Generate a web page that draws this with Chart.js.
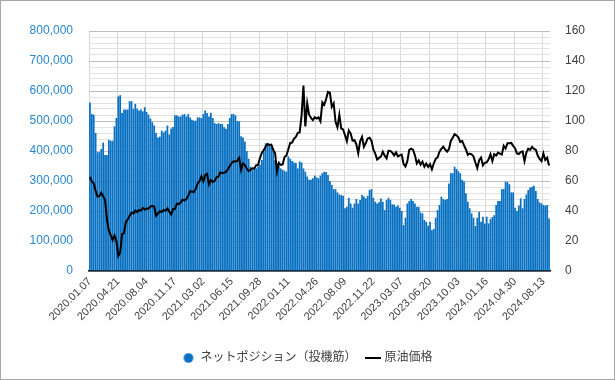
<!DOCTYPE html>
<html>
<head>
<meta charset="utf-8">
<script src="https://cdn.jsdelivr.net/npm/chart.js@4/dist/chart.umd.min.js"></script>
<style>
html,body{margin:0;padding:0;background:#fff;}
#wrap{width:615px;height:380px;box-sizing:border-box;border:1px solid #a6a6a6;position:relative;background:#fff;}
canvas{display:block;}
</style>
</head>
<body>
<div id="wrap"><canvas id="c"></canvas></div>
<script>
// Weekly series starting 2020.01.07
const startYear = 2020, startMonth = 1, startDay = 7;

// ネットポジション（投機筋） – contracts
const netPosition = [
562000,523000,521000,460000,396000,396000,407000,428000,387000,387000,
437000,434000,434000,482000,510000,582000,586000,527000,538000,538000,
538000,566000,566000,541000,557000,541000,535000,538000,532000,546000,
530000,521000,508000,496000,485000,460000,445000,448000,468000,462000,
468000,485000,455000,475000,480000,519000,519000,515000,515000,521000,
523000,515000,523000,512000,504000,501000,501000,512000,512000,510000,
523000,535000,527000,515000,527000,510000,493000,490000,493000,490000,
490000,479000,474000,490000,510000,523000,523000,519000,499000,499000,
449000,445000,432000,400000,374000,348000,337000,342000,342000,348000,
354000,370000,398000,426000,426000,420000,415000,409000,370000,359000,
351000,342000,337000,334000,331000,382000,374000,367000,362000,360000,
342000,365000,362000,342000,331000,315000,304000,304000,309000,318000,
312000,309000,318000,326000,331000,330000,320000,300000,287000,273000,
273000,262000,255000,253000,251000,209000,214000,244000,225000,211000,
225000,240000,225000,237000,253000,248000,242000,251000,270000,273000,
244000,231000,225000,229000,242000,231000,203000,237000,244000,237000,
222000,222000,214000,218000,211000,200000,153000,177000,225000,233000,
240000,233000,225000,214000,214000,195000,192000,170000,164000,151000,
164000,136000,140000,177000,203000,220000,248000,240000,237000,240000,
292000,326000,326000,348000,340000,333000,326000,304000,298000,259000,
231000,209000,192000,177000,150000,177000,197000,164000,181000,158000,
181000,158000,173000,180000,186000,220000,233000,233000,273000,273000,
298000,296000,289000,262000,262000,211000,200000,218000,242000,209000,
240000,255000,270000,278000,281000,284000,267000,240000,229000,225000,
220000,218000,220000,175000
];

// 原油価格 – USD/bbl
const crudePrice = [
62.7,59.6,58.4,53.5,49.6,49.9,52.1,49.9,47.2,34.4,
27.0,24.0,20.5,23.6,20.1,10.0,12.3,24.6,25.3,32.5,
34.4,36.8,38.9,38.4,40.4,39.3,40.6,40.3,42.0,41.0,
41.7,41.6,42.9,43.4,42.8,36.8,38.3,39.8,39.3,40.7,
40.2,41.7,39.6,37.7,41.4,41.4,44.9,44.5,45.6,47.6,
47.0,48.0,50.0,53.2,53.0,52.6,54.8,58.4,60.0,63.2,
59.8,64.0,64.8,57.8,60.6,59.3,60.2,62.4,62.9,65.7,
65.3,65.5,66.1,67.7,70.0,72.1,73.1,73.0,73.4,75.3,
67.4,71.7,70.6,68.3,66.6,67.5,68.5,68.4,70.5,70.6,
75.3,78.9,80.6,83.0,84.6,84.0,84.2,80.8,78.5,66.2,
72.1,70.7,71.1,76.0,77.0,81.2,85.4,85.6,88.2,89.4,
92.1,92.4,103.4,123.7,96.4,111.8,104.2,102.0,100.6,102.6,
101.7,102.4,99.8,112.4,110.8,114.7,119.4,118.9,109.5,111.8,
99.5,95.8,104.2,95.0,94.4,90.5,86.5,93.7,91.6,86.9,
87.3,84.5,78.5,86.5,89.4,82.8,85.3,88.4,88.9,86.9,
81.0,78.2,74.3,75.4,76.2,79.5,76.9,75.1,80.2,80.1,
78.9,77.1,79.1,76.4,77.1,77.6,71.3,69.7,73.2,80.7,
81.5,80.9,77.1,71.7,73.7,70.9,72.9,69.5,71.7,69.4,
71.2,67.7,71.8,74.8,75.8,79.6,81.4,82.9,81.0,79.6,
81.2,86.7,88.8,91.2,90.4,89.2,86.0,86.7,83.7,81.0,
77.4,78.3,77.8,76.4,72.3,68.6,73.9,75.6,70.4,72.2,
72.4,74.4,77.8,73.3,77.9,77.0,78.9,78.2,77.6,83.5,
81.6,85.2,85.2,85.4,83.4,81.9,78.4,78.0,79.3,79.8,
73.3,78.9,81.6,80.8,82.8,81.4,80.8,77.0,74.7,73.2,
78.4,74.0,75.5,70.3
];

const seriesNames = ['ネットポジション（投機筋）', '原油価格'];
const labelEvery = 15;
const BAR_COLOR = '#0770c2';

// weekly category labels
const categories = [];
for (let i = 0; i < netPosition.length; i++) {
  const d = new Date(Date.UTC(startYear, startMonth - 1, startDay + 7 * i));
  categories.push(d.getUTCFullYear() + '.' + String(d.getUTCMonth() + 1).padStart(2, '0') + '.' + String(d.getUTCDate()).padStart(2, '0'));
}

// legend marker images (16 x 10)
function marker(kind) {
  const cv = document.createElement('canvas');
  cv.width = 16; cv.height = 10;
  const g = cv.getContext('2d');
  if (kind === 'circle') {
    g.fillStyle = BAR_COLOR;
    g.beginPath(); g.arc(8, 5, 4.8, 0, Math.PI * 2); g.fill();
  } else {
    g.strokeStyle = '#000'; g.lineWidth = 2;
    g.beginPath(); g.moveTo(0, 5); g.lineTo(16, 5); g.stroke();
  }
  return cv;
}
const circleMarker = marker('circle');
const lineMarker = marker('line');

const FONT = "'Liberation Sans', Arial, 'Noto Sans CJK JP', sans-serif";
Chart.defaults.font.family = FONT;

new Chart(document.getElementById('c'), {
  type: 'bar',
  data: {
    labels: categories,
    datasets: [
      {
        label: seriesNames[0],
        data: netPosition,
        backgroundColor: BAR_COLOR,
        borderWidth: 0,
        barPercentage: 0.92,
        categoryPercentage: 1.0,
        yAxisID: 'y',
        order: 1
      },
      {
        type: 'line',
        label: seriesNames[1],
        data: crudePrice,
        borderColor: '#000000',
        backgroundColor: '#000000',
        borderWidth: 2,
        pointRadius: 0,
        tension: 0,
        yAxisID: 'y1',
        order: 0
      }
    ]
  },
  options: {
    responsive: true,
    maintainAspectRatio: false,
    animation: false,
    events: [],
    layout: { padding: { top: 30, bottom: 5, left: 0, right: 0 } },
    plugins: {
      tooltip: { enabled: false },
      legend: {
        position: 'bottom',
        labels: {
          usePointStyle: true,
          boxHeight: 10,
          padding: 10,
          color: '#404040',
          font: { size: 12, family: FONT },
          sort: (a, b) => a.datasetIndex - b.datasetIndex,
          generateLabels: (chart) => {
            const items = Chart.defaults.plugins.legend.labels.generateLabels(chart);
            items.forEach(it => {
              it.pointStyle = it.datasetIndex === 0 ? circleMarker : lineMarker;
            });
            return items;
          }
        }
      }
    },
    scales: {
      x: {
        grid: {
          offset: true,
          drawTicks: false,
          color: (c) => (c.index % labelEvery === 0 || c.index === categories.length) ? '#d9d9d9' : 'rgba(0,0,0,0)',
          lineWidth: 1
        },
        border: { display: true, color: '#000000', width: 1.5 },
        ticks: {
          autoSkip: false,
          maxRotation: 45,
          minRotation: 45,
          padding: 4,
          color: '#404040',
          font: { size: 11, family: FONT },
          callback: (v, i) => (i % labelEvery === 0 ? categories[i] : '')
        },
        afterFit: (s) => { s.height = 71; }
      },
      y: {
        position: 'left',
        min: 0,
        max: 800000,
        ticks: {
          stepSize: 20000,
          autoSkip: false,
          padding: 16,
          color: '#2a86d1',
          font: { size: 12, family: FONT },
          callback: (v) => (v % 100000 === 0 ? v.toLocaleString('en-US') : '')
        },
        grid: {
          drawTicks: false,
          color: (c) => (c.tick && c.tick.value % 100000 === 0) ? '#bfbfbf' : '#e2e2e2',
          lineWidth: 1
        },
        border: { display: false },
        afterFit: (s) => { s.width = 88; }
      },
      y1: {
        position: 'right',
        min: 0,
        max: 160,
        ticks: {
          stepSize: 20,
          padding: 15,
          color: '#404040',
          font: { size: 12, family: FONT }
        },
        grid: { display: false, drawTicks: false },
        border: { display: false },
        afterFit: (s) => { s.width = 64; }
      }
    }
  }
});
</script>
</body>
</html>
